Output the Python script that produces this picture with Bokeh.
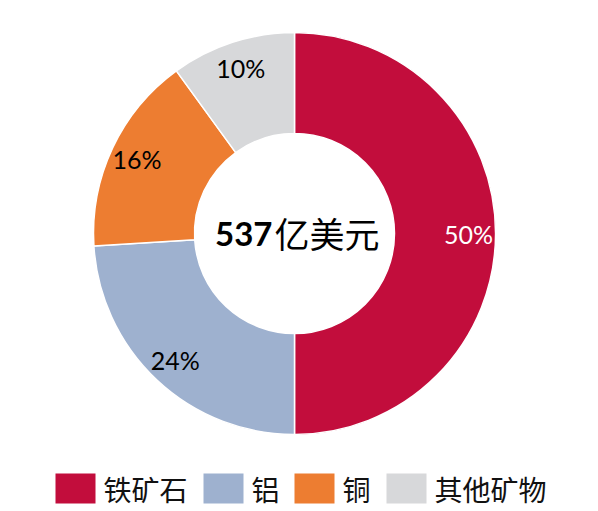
import math
from bokeh.plotting import figure
from bokeh.models import Range1d, ColumnDataSource
from bokeh.core.properties import value
from bokeh.embed import file_html
from bokeh.resources import INLINE

# ---- data ----
categories = ["铁矿石", "铝", "铜", "其他矿物"]
shares = [50, 24, 16, 10]
colors = ["#C20D3C", "#9EB1CF", "#ED7D31", "#D7D8DA"]
label_colors = ["white", "black", "black", "black"]
total_text_num = "537"
total_text_unit = "亿美元"

W, H = 590, 511
p = figure(width=W, height=H, output_backend="svg", toolbar_location=None,
           x_range=Range1d(0, W), y_range=Range1d(0, H), min_border=0)
p.axis.visible = False
p.grid.visible = False
p.outline_line_color = None
p.background_fill_color = "white"
p.border_fill_color = "white"

cx, cy = 294, H - 233
r_out, r_in = 201, 100
r_lab = 174

tot = float(sum(shares))
starts, ends, lx, ly, labels = [], [], [], [], []
cum = 0.0
for s in shares:
    a0 = math.pi / 2 - 2 * math.pi * cum / tot
    cum += s
    a1 = math.pi / 2 - 2 * math.pi * cum / tot
    starts.append(a0)
    ends.append(a1)
    mid = (a0 + a1) / 2
    lx.append(cx + r_lab * math.cos(mid))
    ly.append(cy + r_lab * math.sin(mid))
    labels.append(f"{s}%")

src = ColumnDataSource(dict(start=starts, end=ends, color=colors, x=lx, y=ly,
                            label=labels, lc=label_colors))
p.annular_wedge(x=cx, y=cy, inner_radius=r_in, outer_radius=r_out,
                start_angle="start", end_angle="end", direction="clock",
                fill_color="color", line_color="white", line_width=1.5, source=src)
p.text(x="x", y="y", text="label", text_color="lc", source=src,
       text_font=value("Lato"), text_font_size="25px",
       text_align="center", text_baseline="middle")

# center text
p.text(x=[cx - 22], y=[cy], text=[total_text_num], text_font=value("Lato"),
       text_font_style="bold", text_font_size="33px", text_align="right",
       text_baseline="middle", text_color="black")
p.text(x=[cx - 20], y=[cy + 1], text=[total_text_unit], text_font=value("Noto Sans CJK SC"),
       text_font_size="35px", text_align="left", text_baseline="middle", text_color="black")

# legend
leg_sq_x = [55, 203, 294, 386]
leg_y = H - 488
for i, cat in enumerate(categories):
    x0 = leg_sq_x[i]
    p.rect(x=[x0 + 20], y=[leg_y], width=40, height=30, fill_color=colors[i],
           line_color=None)
    p.text(x=[x0 + 48], y=[leg_y], text=[cat], text_font=value("Noto Sans CJK SC"),
           text_font_size="28px", text_align="left", text_baseline="middle",
           text_color="#111111")

open("out.html", "w").write(file_html(p, INLINE))
